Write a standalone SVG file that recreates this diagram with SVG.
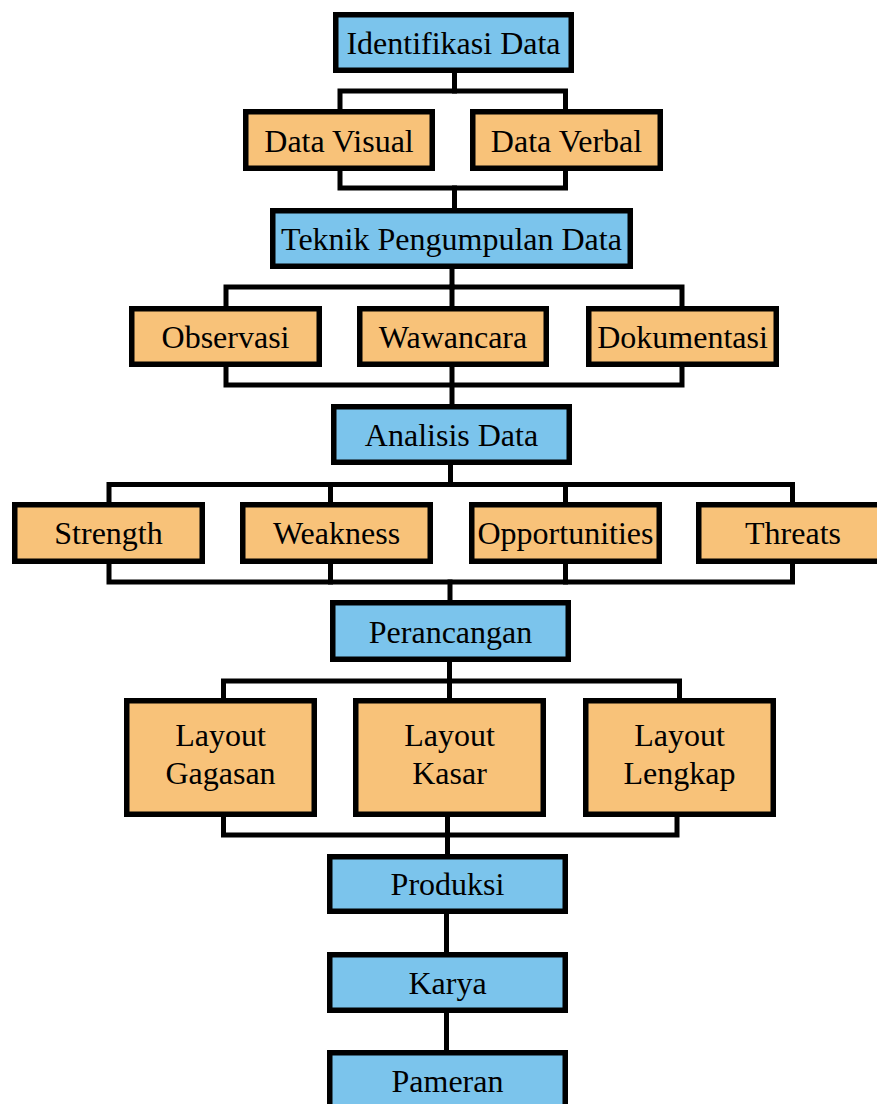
<svg xmlns="http://www.w3.org/2000/svg" width="877" height="1104" viewBox="0 0 877 1104">
<style>
.blue{fill:#7bc4ec;stroke:#000;stroke-width:5.5}
.orange{fill:#f8c279;stroke:#000;stroke-width:5.5}
.conn{fill:none;stroke:#000;stroke-width:5;stroke-linejoin:miter;stroke-linecap:square}
text{font-family:"Liberation Serif","Times New Roman",serif;font-size:32px;fill:#000;text-anchor:middle}
</style>
<rect width="877" height="1104" fill="#fff"/>
<g id="connectors" class="conn">
<path d="M454.5,73 V91"/>
<path d="M340,109 V91 H565.5 V109"/>
<path d="M340,171 V188 H565.5 V171"/>
<path d="M454.5,188 V208"/>
<path d="M452,269 V287"/>
<path d="M226,306 V287 H682 V306"/>
<path d="M452,287 V306"/>
<path d="M226,367 V385 H682 V367"/>
<path d="M452,367 V404"/>
<path d="M450.5,465 V484.5"/>
<path d="M109,502 V484.5 H792.5 V502"/>
<path d="M330.5,484.5 V502"/>
<path d="M565.5,484.5 V502"/>
<path d="M109,564 V582 H792.5 V564"/>
<path d="M330.5,564 V582"/>
<path d="M565.5,564 V582"/>
<path d="M450,582 V600"/>
<path d="M449.5,662 V681"/>
<path d="M223.5,698 V681 H679.5 V698"/>
<path d="M449.5,681 V698"/>
<path d="M223.5,817 V835 H677 V817"/>
<path d="M447.5,817 V854"/>
<path d="M446.5,914 V952"/>
<path d="M446.5,1013 V1050"/>
</g>
<g id="identifikasi"><rect class="blue" x="335.75" y="14.75" width="235.5" height="55.5"/><text x="453.5" y="54">Identifikasi Data</text></g>
<g id="data-visual"><rect class="orange" x="245.75" y="111.75" width="186.5" height="56.5"/><text x="339" y="151.5">Data Visual</text></g>
<g id="data-verbal"><rect class="orange" x="472.75" y="111.75" width="187.5" height="56.5"/><text x="566.5" y="151.5">Data Verbal</text></g>
<g id="teknik"><rect class="blue" x="272.75" y="210.75" width="357.5" height="55.5"/><text x="451.5" y="249.5">Teknik Pengumpulan Data</text></g>
<g id="observasi"><rect class="orange" x="131.75" y="308.75" width="187.5" height="55.5"/><text x="225.5" y="347.5">Observasi</text></g>
<g id="wawancara"><rect class="orange" x="359.75" y="308.75" width="186.5" height="55.5"/><text x="453" y="347.5">Wawancara</text></g>
<g id="dokumentasi"><rect class="orange" x="588.75" y="308.75" width="187.5" height="55.5"/><text x="682.5" y="347.5">Dokumentasi</text></g>
<g id="analisis"><rect class="blue" x="333.75" y="406.75" width="235.5" height="55.5"/><text x="451.5" y="446">Analisis Data</text></g>
<g id="strength"><rect class="orange" x="14.75" y="504.75" width="187.5" height="56.5"/><text x="108.5" y="544">Strength</text></g>
<g id="weakness"><rect class="orange" x="242.75" y="504.75" width="187.5" height="56.5"/><text x="336.5" y="544">Weakness</text></g>
<g id="opportunities"><rect class="orange" x="471.75" y="504.75" width="187.5" height="56.5"/><text x="565.5" y="544">Opportunities</text></g>
<g id="threats"><rect class="orange" x="698.75" y="504.75" width="188.5" height="56.5"/><text x="793" y="544">Threats</text></g>
<g id="perancangan"><rect class="blue" x="332.75" y="602.75" width="235.5" height="56.5"/><text x="450.5" y="642.5">Perancangan</text></g>
<g id="layout-gagasan"><rect class="orange" x="126.75" y="700.75" width="187.5" height="113.5"/><text x="220.5" y="746">Layout</text><text x="220.5" y="784">Gagasan</text></g>
<g id="layout-kasar"><rect class="orange" x="355.75" y="700.75" width="187.5" height="113.5"/><text x="449.5" y="746">Layout</text><text x="449.5" y="784">Kasar</text></g>
<g id="layout-lengkap"><rect class="orange" x="585.75" y="700.75" width="187.5" height="113.5"/><text x="679.5" y="746">Layout</text><text x="679.5" y="784">Lengkap</text></g>
<g id="produksi"><rect class="blue" x="329.75" y="856.75" width="235.5" height="54.5"/><text x="447.5" y="895">Produksi</text></g>
<g id="karya"><rect class="blue" x="329.75" y="954.75" width="235.5" height="55.5"/><text x="447.5" y="994">Karya</text></g>
<g id="pameran"><rect class="blue" x="329.75" y="1052.75" width="235.5" height="56.5"/><text x="447.5" y="1092">Pameran</text></g>
</svg>
